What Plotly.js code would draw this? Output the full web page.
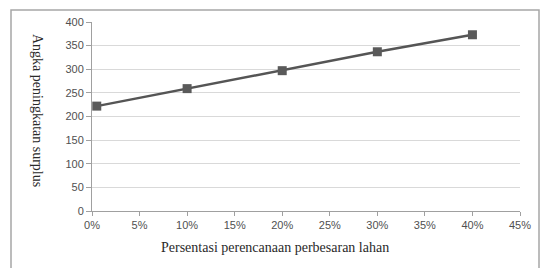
<!DOCTYPE html>
<html>
<head>
<meta charset="utf-8">
<script src="https://cdn.plot.ly/plotly-3.0.1.min.js"></script>
<style>
html,body{margin:0;padding:0;background:#fff;}
#chart{width:541px;height:268px;}
</style>
</head>
<body>
<div id="chart"></div>
<script>
// Data
const xPercent = [0.005, 0.10, 0.20, 0.30, 0.40];
const surplus = [222, 259, 297, 337, 373];
const xTickVals = [0, 0.05, 0.10, 0.15, 0.20, 0.25, 0.30, 0.35, 0.40, 0.45];
const xTickText = ['0%', '5%', '10%', '15%', '20%', '25%', '30%', '35%', '40%', '45%'];
const yTickVals = [0, 50, 100, 150, 200, 250, 300, 350, 400];
const xTitle = 'Persentasi perencanaan perbesaran lahan';
const yTitle = 'Angka peningkatan surplus';

const trace = {
  x: xPercent,
  y: surplus,
  type: 'scatter',
  mode: 'lines+markers',
  line: {color: '#555555', width: 2.5},
  marker: {symbol: 'square', size: 9, color: '#5a5a5a'},
  showlegend: false,
  cliponaxis: false
};

const layout = {
  width: 541, height: 268,
  margin: {l: 92, r: 21, t: 22, b: 57},
  paper_bgcolor: '#ffffff',
  plot_bgcolor: '#ffffff',
  xaxis: {
    range: [0, 0.45],
    tickvals: xTickVals,
    ticktext: xTickText,
    showgrid: false,
    zeroline: false,
    showline: true,
    linecolor: '#a0a0a0',
    linewidth: 1,
    ticks: 'outside',
    ticklen: 4,
    tickcolor: '#a0a0a0',
    tickfont: {family: 'Liberation Sans, Arial, sans-serif', size: 11, color: '#505050'},
    fixedrange: true
  },
  yaxis: {
    range: [0, 400],
    tickvals: yTickVals,
    showgrid: true,
    gridcolor: '#d9d9d9',
    gridwidth: 1,
    zeroline: false,
    showline: true,
    linecolor: '#a0a0a0',
    linewidth: 1,
    ticks: 'outside',
    ticklen: 5,
    tickcolor: '#a0a0a0',
    tickfont: {family: 'Liberation Sans, Arial, sans-serif', size: 11, color: '#505050'},
    fixedrange: true
  },
  shapes: [{
    type: 'rect', xref: 'paper', yref: 'paper',
    x0: -81/428, x1: 447/428, y0: -80/189, y1: 201/189,
    line: {color: '#a6a6a6', width: 1.5}, fillcolor: 'rgba(0,0,0,0)', layer: 'below'
  }],
  annotations: [
    {
      text: xTitle, xref: 'paper', yref: 'paper',
      x: (275-92)/428, y: (211-247)/189, xanchor: 'center', yanchor: 'middle',
      showarrow: false,
      font: {family: 'Liberation Serif, Times New Roman, serif', size: 14, color: '#2a2a2a'}
    },
    {
      text: yTitle, xref: 'paper', yref: 'paper',
      x: (38-92)/428, y: (211-110)/189, xanchor: 'center', yanchor: 'middle',
      textangle: 90, showarrow: false,
      font: {family: 'Liberation Serif, Times New Roman, serif', size: 14, color: '#2a2a2a'}
    }
  ]
};

Plotly.newPlot('chart', [trace], layout, {displayModeBar: false, staticPlot: true});
</script>
</body>
</html>
